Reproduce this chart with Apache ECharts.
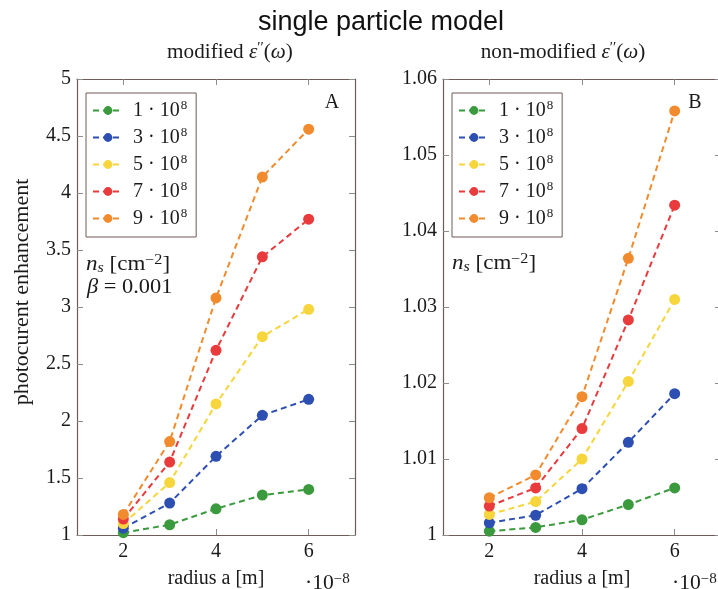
<!DOCTYPE html>
<html>
<head>
<meta charset="utf-8">
<script src="https://cdn.jsdelivr.net/npm/echarts@6/dist/echarts.min.js"></script>
<style>
  html, body { margin: 0; padding: 0; background: #fff; }
  #chart { width: 718px; height: 589px; }
</style>
</head>
<body>
<div id="chart"></div>
<script>
// radius a, in units of 10^-8 m
const radius = [2, 3, 4, 5, 6];
// sheet density n_s mantissas (×10^8 cm^-2)
const densities = ['1', '3', '5', '7', '9'];
const colors = ['#3b9a3d', '#2e4fb2', '#f7d53c', '#e93a3c', '#f28b2d'];

// panel A: modified ε''(ω)
const modA1 = [1.02, 1.09, 1.23, 1.35, 1.40];
const modA3 = [1.06, 1.28, 1.69, 2.05, 2.19];
const modA5 = [1.10, 1.46, 2.15, 2.74, 2.98];
const modA7 = [1.14, 1.64, 2.62, 3.44, 3.77];
const modA9 = [1.18, 1.82, 3.08, 4.14, 4.56];

// panel B: non-modified ε''(ω)
const nonB1 = [1.0005, 1.0010, 1.0020, 1.0040, 1.0062];
const nonB3 = [1.0016, 1.0026, 1.0061, 1.0122, 1.0186];
const nonB5 = [1.0027, 1.0044, 1.0100, 1.0202, 1.0310];
const nonB7 = [1.0038, 1.0062, 1.0140, 1.0283, 1.0434];
const nonB9 = [1.0049, 1.0079, 1.0182, 1.0364, 1.0558];

const xTicks = [2, 4, 6];
const yTicksA = { min: 1, max: 5, interval: 0.5 };
const yTicksB = { min: 1, max: 1.06, interval: 0.01 };

const panelA = [modA1, modA3, modA5, modA7, modA9];
const panelB = [nonB1, nonB3, nonB5, nonB7, nonB9];

const SERIF = '"Liberation Serif", "DejaVu Serif", serif';
const SANS = '"Liberation Sans", Arial, sans-serif';
const frameColor = '#6e5d57';
const tickColor = '#8c8c8c';
const textColor = '#1a1a1a';

const seriesNames = densities.map(d => d + ' · 10^8');

function makeXAxis(gridIndex, position) {
  const bottom = position === 'bottom';
  return {
    type: 'value', gridIndex, position, min: 1, max: 7,
    axisLine: { show: true, onZero: false, lineStyle: { color: frameColor, width: 1.2 } },
    axisTick: { show: true, inside: true, length: 6, customValues: xTicks, lineStyle: { color: tickColor } },
    axisLabel: { show: bottom, customValues: xTicks, margin: 7, fontFamily: SERIF, fontSize: 20, color: textColor },
    splitLine: { show: false },
    name: bottom ? 'radius a [m]' : '',
    nameLocation: 'middle', nameGap: 34,
    nameTextStyle: { fontFamily: SERIF, fontSize: 20, color: textColor }
  };
}

function makeYAxis(gridIndex, position, scale, decimals) {
  const left = position === 'left';
  return {
    type: 'value', gridIndex, position,
    min: scale.min, max: scale.max, interval: scale.interval,
    axisLine: { show: true, onZero: false, lineStyle: { color: frameColor, width: 1.2 } },
    axisTick: { show: true, inside: true, length: 6, lineStyle: { color: tickColor } },
    axisLabel: {
      show: left, margin: 6, fontFamily: SERIF, fontSize: 20, color: textColor,
      formatter: v => String(+v.toFixed(decimals))
    },
    splitLine: { show: false }
  };
}

function makeSeries(values, panelIdx) {
  return values.map((vals, i) => ({
    name: seriesNames[i],
    type: 'line',
    xAxisIndex: panelIdx * 2,
    yAxisIndex: panelIdx * 2,
    data: radius.map((r, k) => [r, vals[k]]),
    symbol: 'circle',
    symbolSize: 11,
    color: colors[i],
    itemStyle: { color: colors[i] },
    lineStyle: { color: colors[i], width: 2, type: [6, 4] },
    emphasis: { disabled: true },
    animation: false
  }));
}

function makeLegend(left, top) {
  return {
    left, top, orient: 'vertical',
    data: seriesNames,
    backgroundColor: '#fff',
    borderColor: frameColor, borderWidth: 1,
    padding: [6, 9, 7, 6],
    itemWidth: 30, itemHeight: 11, itemGap: 4,
    formatter: name => {
      const m = name.split(' ')[0];
      return '{t|' + m + ' · 10}{s|8}';
    },
    textStyle: {
      fontFamily: SERIF, fontSize: 20, color: textColor, lineHeight: 20,
      rich: {
        t: { fontFamily: SERIF, fontSize: 20, color: textColor, lineHeight: 20, padding: [0, 0, 0, 5] },
        s: { fontFamily: SERIF, fontSize: 13, color: textColor, lineHeight: 20, padding: [0, 0, 10, 1] }
      }
    },
    selectedMode: false
  };
}

const richMath = {
  r: { fontFamily: SERIF, fontSize: 20, fill: textColor },
  i: { fontFamily: SERIF, fontSize: 20, fontStyle: 'italic', fill: textColor },
  ii: { fontFamily: SERIF, fontSize: 14, fontStyle: 'italic', fill: textColor, padding: [0, 0, -7, 0] },
  sp: { fontFamily: SERIF, fontSize: 14, fill: textColor, padding: [0, 0, 10, 0] }
};

function mathText(x, y, text, align, sx) {
  return {
    type: 'text', x, y, silent: true, scaleX: sx || 1,
    style: {
      text, rich: richMath, align: align || 'left', verticalAlign: 'middle',
      font: '20px ' + SERIF, fill: textColor
    }
  };
}

const option = {
  backgroundColor: '#fff',
  animation: false,
  grid: [
    { left: 77, top: 79, width: 278, height: 456, outerBoundsMode: 'none', containLabel: false },
    { left: 443, top: 79, width: 278, height: 456, outerBoundsMode: 'none', containLabel: false }
  ],
  xAxis: [makeXAxis(0, 'bottom'), makeXAxis(0, 'top'), makeXAxis(1, 'bottom'), makeXAxis(1, 'top')],
  yAxis: [makeYAxis(0, 'left', yTicksA, 1), makeYAxis(0, 'right', yTicksA, 1),
          makeYAxis(1, 'left', yTicksB, 2), makeYAxis(1, 'right', yTicksB, 2)],
  legend: [makeLegend(86, 93), makeLegend(452, 93)],
  series: [...makeSeries(panelA, 0), ...makeSeries(panelB, 1)],
  graphic: [
    { type: 'text', x: 381, y: 23, silent: true,
      style: { text: 'single particle model', font: '27px ' + SANS, fill: '#111', align: 'center', verticalAlign: 'middle' } },
    mathText(230, 53, '{r|modified }{i|ε}{sp|′′}{r|(}{i|ω}{r|)}', 'center', 1.06),
    mathText(563, 53, '{r|non-modified }{i|ε}{sp|′′}{r|(}{i|ω}{r|)}', 'center', 1.06),
    mathText(332, 103, '{r|A}', 'center'),
    mathText(695, 103, '{r|B}', 'center'),
    mathText(86, 265, '{i|n}{ii|s}{r| [cm}{sp|−2}{r|]}', 'left', 1.15),
    mathText(87, 288, '{i|β}{r| = 0.001}', 'left', 1.12),
    mathText(452, 264, '{i|n}{ii|s}{r| [cm}{sp|−2}{r|]}', 'left', 1.15),
    mathText(305, 584, '{r|·10}{sp|−8}', 'left', 1.08),
    mathText(672, 584, '{r|·10}{sp|−8}', 'left', 1.08),
    { type: 'text', x: 23, y: 292, rotation: Math.PI / 2, silent: true, scaleX: 1.1,
      style: { text: 'photocurent enhancement', font: '20px ' + SERIF, fill: textColor, align: 'center', verticalAlign: 'middle' } }
  ]
};

const chart = echarts.init(document.getElementById('chart'), null, { renderer: 'canvas' });
chart.setOption(option);
</script>
</body>
</html>
